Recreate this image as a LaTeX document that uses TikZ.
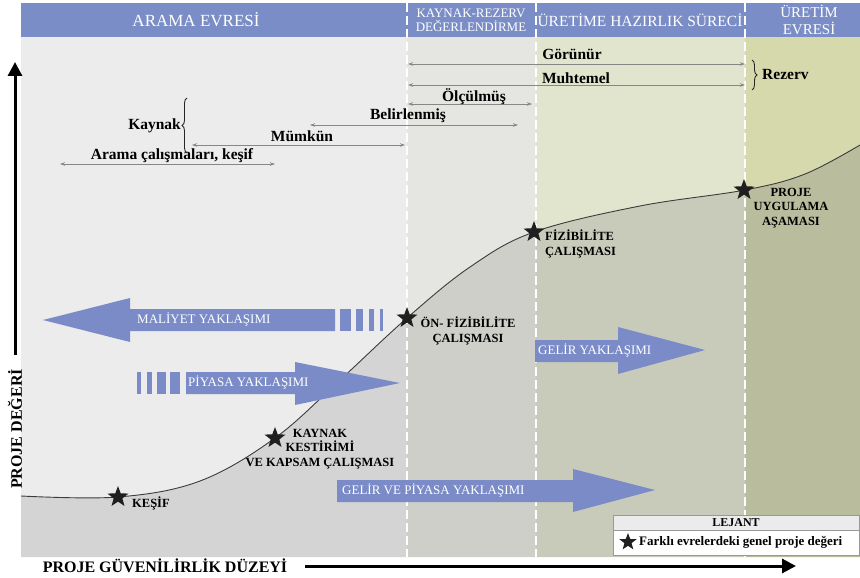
\documentclass[tikz,border=0pt]{standalone}
\usepackage{fontspec}
\setmainfont{Liberation Serif}
\usetikzlibrary{arrows.meta,shapes.geometric,decorations.pathreplacing}
\definecolor{hdrblue}{RGB}{122,141,198}
\definecolor{arrblue}{RGB}{122,139,200}
\definecolor{upA}{RGB}{236,236,236}
\definecolor{loA}{RGB}{212,212,212}
\definecolor{upB}{RGB}{229,230,226}
\definecolor{loB}{RGB}{206,207,201}
\definecolor{upC}{RGB}{225,229,205}
\definecolor{loC}{RGB}{201,203,186}
\definecolor{upD}{RGB}{214,217,172}
\definecolor{loD}{RGB}{186,188,158}
\definecolor{rangegray}{RGB}{135,135,135}
\definecolor{curvecol}{RGB}{60,60,60}
\begin{document}
\begin{tikzpicture}[x=1pt,y=-1pt,
  hdr/.style={text=white,font=\fontsize{#1}{#1}\selectfont,align=center,inner sep=0},
  divider/.style={white,line width=1.6pt,dash pattern=on 9pt off 4pt},
  rng/.style={rangegray,line width=0.8pt,{Stealth[length=5pt,width=3.5pt]}-{Stealth[length=5pt,width=3.5pt]}},
  rlabel/.style={font=\fontsize{15.5}{15.5}\selectfont\bfseries,inner sep=0},
  starnode/.style={star,star points=5,star point ratio=2.4,fill=black!88,draw=none,minimum size=22pt,inner sep=0},
  clabel/.style={font=\fontsize{12.5}{14.8}\selectfont\bfseries,inner sep=0},
  bluearrow/.style={fill=arrblue,draw=none},
  atext/.style={text=white,font=\fontsize{13}{13}\selectfont,inner sep=0},
  axisarrow/.style={black,line width=3pt,-{Triangle[length=14pt,width=14pt]}},
  axlabel/.style={font=\fontsize{16}{16}\selectfont\bfseries,inner sep=0},
  brc/.style={decorate,decoration={brace,amplitude=5pt},line width=0.9pt,black!85}
]
\useasboundingbox (0,0) rectangle (860,578);
\fill[white] (0,0) rectangle (860,578);
% panels
\foreach \xa/\xb/\cu/\cl in {21/407/upA/loA,407/536/upB/loB,536/745/upC/loC,745/860/upD/loD}{
  \begin{scope}
    \clip (\xa,37) rectangle (\xb,557);
    \fill[\cu] (\xa,37) rectangle (\xb,557);
    \fill[\cl] plot[smooth,tension=0.6] coordinates {(21,496) (118,497) (200,481) (275,438) (340,380) (407,318) (470,267) (534,232) (640,206) (745,190) (805,174) (860,145)} -- (860,557) -- (21,557) -- cycle;
  \end{scope}
}
\draw[curvecol,line width=0.9pt] plot[smooth,tension=0.6] coordinates {(21,496) (118,497) (200,481) (275,438) (340,380) (407,318) (470,267) (534,232) (640,206) (745,190) (805,174) (860,145)};
% header
\fill[hdrblue] (21,3) rectangle (860,37);
\node[hdr=17] (h1) at (196,20) {ARAMA EVRESİ};
\node[hdr=13,text width=125pt] (h2) at (471,20) {KAYNAK-REZERV\\[1pt]DEĞERLENDİRME};
\node[hdr=15.5] (h3) at (640,20) {ÜRETİME HAZIRLIK SÜRECİ};
\node[hdr=15] (h4) at (809,20) {ÜRETİM\\[2pt]EVRESİ};
% dividers
\foreach \x in {407,536,745}{\draw[divider] (\x,3) -- (\x,557);}
% range arrows
\coordinate (g1) at (408,64); \coordinate (g2) at (745,64);
\coordinate (m1) at (408,85); \coordinate (m2) at (745,85);
\coordinate (o1) at (408,104); \coordinate (o2) at (532,104);
\coordinate (b1) at (310,125); \coordinate (b2) at (518,125);
\coordinate (k1) at (192,145); \coordinate (k2) at (405,145);
\coordinate (a1) at (60,164); \coordinate (a2) at (275,164);
\draw[rng] (g1) -- (g2);
\draw[rng] (m1) -- (m2);
\draw[rng] (o1) -- (o2);
\draw[rng] (b1) -- (b2);
\draw[rng] (k1) -- (k2);
\draw[rng] (a1) -- (a2);
\node[rlabel] (lg) at (572,54) {Görünür};
\node[rlabel] (lm) at (576,78) {Muhtemel};
\node[rlabel] (lo) at (474,97) {Ölçülmüş};
\node[rlabel] (lb) at (408,116) {Belirlenmiş};
\node[rlabel] (lk) at (302,136) {Mümkün};
\node[rlabel] (la) at (172,156) {Arama çalışmaları, keşif};
\node[rlabel,anchor=east] (lkay) at (181,126) {Kaynak};
\node[rlabel,anchor=west] (lrez) at (762,75) {Rezerv};
\coordinate (kb1) at (187,153); \coordinate (kb2) at (187,98);
\coordinate (rb1) at (752,60); \coordinate (rb2) at (752,90);
\draw[brc] (kb1) -- (kb2);
\draw[brc] (rb1) -- (rb2);
% blue arrows
\fill[bluearrow] (335,309) -- (130,309) -- (130,298) -- (43,320) -- (130,342) -- (130,331) -- (335,331) -- cycle;
\foreach \a/\b in {340/351,356/363,369/374,380/383}{\fill[bluearrow] (\a,309) rectangle (\b,331);}
\node[atext,anchor=west] (tmal) at (137,320) {MALİYET YAKLAŞIMI};
\foreach \a/\b in {137/141,147/152,157/166,170/180}{\fill[bluearrow] (\a,372) rectangle (\b,394);}
\fill[bluearrow] (186,372) -- (295,372) -- (295,362) -- (400,383) -- (295,405) -- (295,394) -- (186,394) -- cycle;
\node[atext,anchor=west] (tpiy) at (188,383) {PİYASA YAKLAŞIMI};
\fill[bluearrow] (535,340) -- (618,340) -- (618,327) -- (705,350) -- (618,374) -- (618,362) -- (535,362) -- cycle;
\node[atext,anchor=west] (tgel) at (538,351) {GELİR YAKLAŞIMI};
\fill[bluearrow] (337,480) -- (573,480) -- (573,469) -- (655,490) -- (573,512) -- (573,502) -- (337,502) -- cycle;
\node[atext,anchor=west] (tgp) at (342,491) {GELİR VE PİYASA YAKLAŞIMI};
% stars
\node[starnode] (s1) at (118,497) {};
\node[starnode] (s2) at (275,438) {};
\node[starnode] (s3) at (407,318) {};
\node[starnode] (s4) at (534,232) {};
\node[starnode] (s5) at (744,190) {};
\node[clabel,anchor=west] (c1) at (132,503) {KEŞİF};
\node[clabel,align=center] (c2) at (320,449) {KAYNAK\\KESTİRİMİ\\VE KAPSAM ÇALIŞMASI};
\node[clabel,align=center] (c3) at (468,331) {ÖN- FİZİBİLİTE\\ÇALIŞMASI};
\node[clabel,align=left,anchor=west] (c4) at (545,244) {FİZİBİLİTE\\ÇALIŞMASI};
\node[clabel,align=center] (c5) at (791,208) {PROJE\\UYGULAMA\\AŞAMASI};
% axes
\coordinate (yb) at (15,355); \coordinate (yt) at (15,62);
\draw[axisarrow] (yb) -- (yt);
\node[axlabel,rotate=90] (ylab) at (15,429) {PROJE DEĞERİ};
\coordinate (xb) at (305,566); \coordinate (xt) at (796,566);
\draw[axisarrow] (xb) -- (xt);
\node[axlabel] (xlab) at (165,566) {PROJE GÜVENİLİRLİK DÜZEYİ};
% legend
\draw[black!40,line width=0.7pt,fill=black!8] (613,515) rectangle (859.5,530);
\draw[black!40,line width=0.7pt,fill=white] (613,530) rectangle (859.5,555);
\node[font=\fontsize{12}{12}\selectfont\bfseries,inner sep=0] (lej) at (736,522.5) {LEJANT};
\node[starnode,minimum size=18pt] (ls) at (628,542) {};
\node[font=\fontsize{13}{13}\selectfont\bfseries,inner sep=0,anchor=west] (ltxt) at (639,542) {Farklı evrelerdeki genel proje değeri};
\end{tikzpicture}
\end{document}
